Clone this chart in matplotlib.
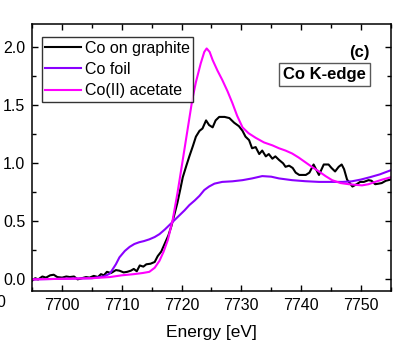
import matplotlib
matplotlib.use('Agg')
import matplotlib.pyplot as plt
from matplotlib.ticker import MultipleLocator

plt.rcParams['font.family'] = ['Liberation Sans', 'DejaVu Sans']

# Co(II) acetate reference
acet_e = [7695, 7700, 7705, 7708, 7710, 7712, 7713.5, 7714.6, 7715.5, 7716.3, 7717, 7717.7,
          7718.5, 7719.3, 7720.2, 7721, 7721.8, 7722.4, 7723.2, 7723.8, 7724.2, 7724.7,
          7725.2, 7726, 7726.8, 7727.7, 7728.5, 7729.3, 7730.2, 7731.2, 7732.4, 7733.8,
          7735.2, 7736.3, 7737.4, 7738.5, 7739.6, 7740.7, 7741.8, 7743, 7744.1, 7745.2,
          7746.6, 7748, 7750.2, 7751.3, 7752.4, 7753.6, 7755]
acet_mu = [0.0, 0.005, 0.01, 0.02, 0.035, 0.045, 0.055, 0.065, 0.10, 0.16, 0.24, 0.34,
           0.51, 0.74, 1.03, 1.29, 1.55, 1.70, 1.86, 1.96, 1.99, 1.96,
           1.89, 1.80, 1.72, 1.62, 1.52, 1.41, 1.31, 1.26, 1.22, 1.18,
           1.155, 1.13, 1.11, 1.085, 1.05, 1.01, 0.97, 0.93, 0.89, 0.855,
           0.83, 0.82, 0.81, 0.82, 0.84, 0.86, 0.88]

# Co foil reference
foil_e = [7695, 7700, 7705, 7707, 7708, 7709, 7709.6, 7710.5, 7711.3, 7712.1, 7712.9, 7713.7,
          7714.6, 7715.5, 7716.3, 7717.2, 7718, 7718.8, 7719.6, 7720.5, 7721.3, 7722.2,
          7723, 7723.8, 7724.6, 7725.5, 7726.8, 7728.5, 7730.2, 7731.8, 7733.5, 7735,
          7736.3, 7738.5, 7740.7, 7743, 7745.2, 7747, 7748.5, 7750, 7751.5, 7753.2, 7755]
foil_mu = [0.0, 0.005, 0.01, 0.025, 0.05, 0.13, 0.19, 0.245, 0.28, 0.305, 0.32, 0.33,
           0.345, 0.365, 0.39, 0.43, 0.47, 0.51, 0.55, 0.595, 0.64, 0.68,
           0.72, 0.77, 0.80, 0.825, 0.84, 0.845, 0.855, 0.87, 0.89, 0.885,
           0.87, 0.855, 0.846, 0.84, 0.84, 0.84, 0.845, 0.86, 0.88, 0.905, 0.94]

# Co on graphite sample
samp_e = [7695, 7695.5, 7696, 7696.7, 7697.3, 7698, 7698.6, 7699.2, 7700, 7700.7, 7701.3,
          7702, 7702.6, 7703.3, 7704, 7704.6, 7705.3, 7706, 7706.5, 7707, 7707.5, 7708.2,
          7709, 7709.6, 7710.3, 7710.9, 7711.5, 7712, 7712.5, 7713, 7713.6, 7714.1, 7714.8,
          7715.5, 7716, 7716.6, 7717.2, 7717.8, 7718.3, 7718.8, 7719.3, 7719.8, 7720.2,
          7720.8, 7721.3, 7721.9, 7722.4, 7723, 7723.5, 7724.1, 7724.6, 7725.2, 7725.7,
          7726.3, 7727.2, 7728, 7728.8, 7729.6, 7730.2, 7730.7, 7731.3, 7731.8, 7732.4,
          7733, 7733.5, 7734.1, 7734.6, 7735.2, 7735.7, 7736.3, 7737, 7737.4, 7738, 7738.6,
          7739.1, 7739.7, 7740.8, 7741.4, 7742.1, 7742.6, 7743, 7743.8, 7744.6, 7745.1,
          7745.7, 7746.3, 7746.8, 7747.2, 7747.7, 7748.6, 7749.3, 7749.9, 7750.5, 7751.3,
          7751.8, 7752.4, 7753, 7753.5, 7754.2, 7755]
samp_mu = [-0.01, 0.01, 0.0, 0.025, 0.015, 0.035, 0.04, 0.02, 0.015, 0.025, 0.02,
           0.025, 0.0, 0.01, 0.02, 0.015, 0.03, 0.02, 0.045, 0.035, 0.065, 0.055,
           0.08, 0.075, 0.06, 0.065, 0.075, 0.09, 0.07, 0.12, 0.11, 0.13, 0.135,
           0.15, 0.2, 0.24, 0.31, 0.38, 0.46, 0.56, 0.66, 0.78, 0.88,
           0.98, 1.06, 1.15, 1.23, 1.28, 1.30, 1.37, 1.33, 1.31, 1.37,
           1.40, 1.40, 1.39, 1.35, 1.32, 1.28, 1.23, 1.20, 1.13, 1.14,
           1.08, 1.11, 1.06, 1.08, 1.04, 1.06, 1.03, 1.00, 0.97, 0.98, 0.96,
           0.92, 0.90, 0.90, 0.92, 0.99, 0.94, 0.90, 0.99, 0.99, 0.96,
           0.93, 0.97, 0.99, 0.95, 0.86, 0.80, 0.82, 0.84, 0.84, 0.855,
           0.85, 0.82, 0.825, 0.83, 0.85, 0.86]

fig = plt.figure(figsize=(4.08, 3.54), dpi=100)
ax = fig.add_axes([0.079, 0.178, 0.8785, 0.754])

ax.plot(samp_e, samp_mu, color='black', lw=1.5, label='Co on graphite')
ax.plot(foil_e, foil_mu, color='#8a00ff', lw=1.5, label='Co foil')
ax.plot(acet_e, acet_mu, color='#ff00ff', lw=1.5, label='Co(II) acetate')

ax.set_xlim(7695, 7755)
ax.set_ylim(-0.1, 2.2)
ax.xaxis.set_major_locator(MultipleLocator(10))
ax.xaxis.set_minor_locator(MultipleLocator(5))
ax.yaxis.set_major_locator(MultipleLocator(0.5))
ax.yaxis.set_minor_locator(MultipleLocator(0.25))
ax.tick_params(which='both', direction='in', top=True, right=True, labelsize=11.5, width=1)
ax.tick_params(which='major', length=4.5, pad=5)
ax.tick_params(which='minor', length=3)
for s in ax.spines.values():
    s.set_linewidth(1.1)

ax.set_xlabel('Energy [eV]', fontsize=12.5, labelpad=9)

leg = ax.legend(loc='upper left', bbox_to_anchor=(0.026, 0.95), borderaxespad=0,
                fontsize=11.5, frameon=True, fancybox=False, edgecolor='black',
                handlelength=2.3, handletextpad=0.2, labelspacing=0.4, borderpad=0.2)
leg.get_frame().set_linewidth(1.0)

ax.text(0.942, 0.895, '(c)', transform=ax.transAxes, ha='right', va='center',
        fontsize=12, fontweight='bold')
ax.text(0.93, 0.81, 'Co K-edge', transform=ax.transAxes, ha='right', va='center',
        fontsize=12, fontweight='bold',
        bbox=dict(boxstyle='square,pad=0.25', fc='white', ec='0.35', lw=1.0))

# cut-off label from the neighbouring panel
fig.text(0.012, 0.146, '0', ha='right', va='center', fontsize=11.5)

fig.savefig('out.png', dpi=100)
